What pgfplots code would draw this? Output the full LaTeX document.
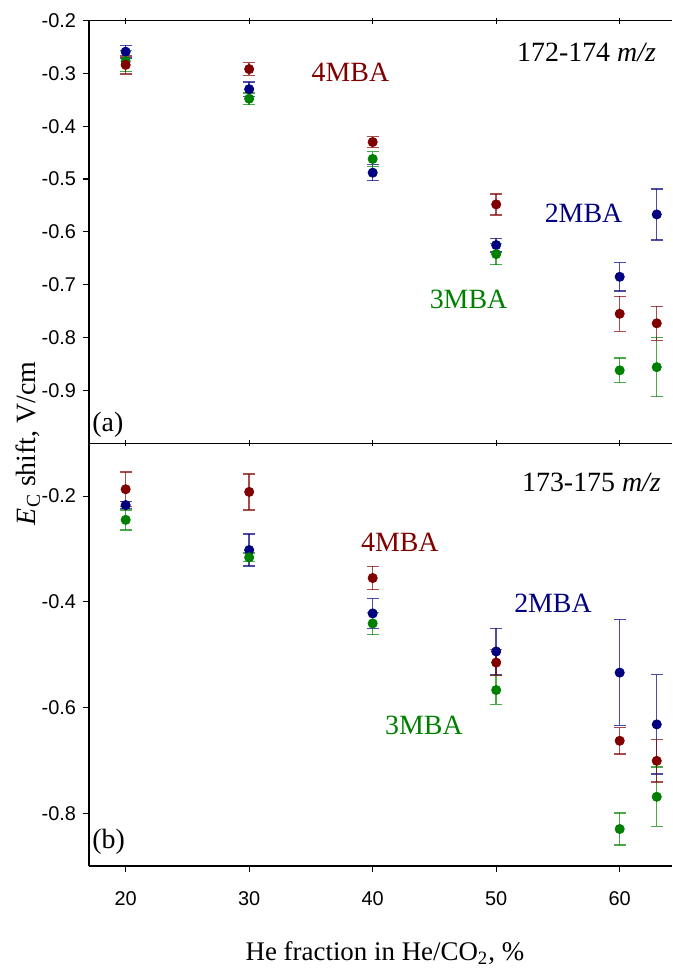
\documentclass[border=0pt]{standalone}
\usepackage{fontspec}
\setmainfont{Liberation Serif}
\newfontfamily\arial{Liberation Sans}
\usepackage{pgfplots}
\pgfplotsset{compat=1.18}
\definecolor{cred}{RGB}{128,0,0}
\definecolor{cblue}{RGB}{0,0,128}
\definecolor{cgreen}{RGB}{0,128,0}
\tikzset{ann/.style={font=\fontsize{14}{16}\selectfont}}
\pgfplotsset{
 common/.style={
  scale only axis, width=291.5bp, height=211.4bp,
  xmin=17.03, xmax=64.23,
  separate axis lines,
  axis x line*=box, axis y line*=left,
  axis line style={-, black, line width=0.7bp},
  xtick={20,30,40,50,60},
  ytick align=outside,
  major tick length=3bp,
  tick style={black, line width=0.6bp},
  ticklabel style={font=\arial\fontsize{10}{12}\selectfont},
  /pgf/number format/assume math mode=true,
  clip=false,
 },
 pt/.style={only marks, mark=*, mark size=2.3bp, color=#1, mark options={fill=#1,draw=#1},
   error bars/.cd, y dir=both, y explicit,
   error bar style={color=#1, opacity=0.7, line width=0.7bp},
   error mark options={rotate=90, mark size=3bp, line width=0.7bp, color=#1, opacity=0.7}},
}
\begin{document}
\begin{tikzpicture}
% top panel
\begin{axis}[common, at={(0,211.4bp)}, anchor=south west,
  ymin=-1.0, ymax=-0.2,
  xtick pos=both, xtick align=center, xticklabels={},
  ytick={-0.9,-0.8,-0.7,-0.6,-0.5,-0.4,-0.3,-0.2},
  yticklabels={-0.9,-0.8,-0.7,-0.6,-0.5,-0.4,-0.3,-0.2},
  ytick pos=left]
\addplot+[pt=cblue] coordinates {(20,-0.259)+-(0,0.012) (30,-0.330)+-(0,0.014) (40,-0.488)+-(0,0.015) (50,-0.625)+-(0,0.013) (60,-0.685)+-(0,0.027) (63,-0.567)+-(0,0.048)};
\addplot+[pt=cgreen] coordinates {(20,-0.277)+-(0,0.020) (30,-0.348)+-(0,0.011) (40,-0.462)+-(0,0.014) (50,-0.642)+-(0,0.020) (60,-0.862)+-(0,0.023) (63,-0.856)+-(0,0.056)};
\addplot+[pt=cred] coordinates {(20,-0.284)+-(0,0.017) (30,-0.292)+-(0,0.012) (40,-0.430)+-(0,0.010) (50,-0.548)+-(0,0.020) (60,-0.755)+-(0,0.033) (63,-0.773)+-(0,0.032)};
\node[ann, text=cred] at (axis cs:38.2,-0.298) {4MBA};
\node[ann, text=cblue] at (axis cs:57.07,-0.565) {2MBA};
\node[ann, text=cgreen] at (axis cs:47.76,-0.727) {3MBA};
\node[ann, anchor=east] at (axis cs:63.5,-0.26) {172-174 \textit{m/z}};
\node[ann, anchor=west, inner sep=0pt] at (axis cs:17.27,-0.966) {(a)};
\end{axis}
% bottom panel
\begin{axis}[common, at={(0,0)}, anchor=south west,
  ymin=-0.9, ymax=-0.1,
  xtick pos=bottom, xtick align=outside,
  xticklabels={20,30,40,50,60},
  xticklabel style={yshift=-6.5bp},
  ytick={-0.8,-0.6,-0.4,-0.2},
  yticklabels={-0.8,-0.6,-0.4,-0.2},
  ytick pos=left]
\addplot+[pt=cblue] coordinates {(20,-0.217)+-(0,0.007) (30,-0.302)+-(0,0.030) (40,-0.422)+-(0,0.028) (50,-0.494)+-(0,0.044) (60,-0.534)+-(0,0.100) (63,-0.632)+-(0,0.094)};
\addplot+[pt=cgreen] coordinates {(20,-0.245)+-(0,0.019) (30,-0.316)+-(0,0.008) (40,-0.441)+-(0,0.021) (50,-0.567)+-(0,0.027) (60,-0.830)+-(0,0.030) (63,-0.769)+-(0,0.056)};
\addplot+[pt=cred] coordinates {(20,-0.187)+-(0,0.033) (30,-0.192)+-(0,0.034) (40,-0.355)+-(0,0.022) (50,-0.515)+-(0,0.025) (60,-0.663)+-(0,0.025) (63,-0.701)+-(0,0.040)};
\node[ann, text=cred] at (axis cs:42.2,-0.288) {4MBA};
\node[ann, text=cblue] at (axis cs:54.6,-0.403) {2MBA};
\node[ann, text=cgreen] at (axis cs:44.15,-0.633) {3MBA};
\node[ann, anchor=east] at (axis cs:63.9,-0.174) {173-175 \textit{m/z}};
\node[ann, anchor=west, inner sep=0pt] at (axis cs:17.27,-0.854) {(b)};
\end{axis}
\node[rotate=90, font=\fontsize{14}{16}\selectfont] at (-30.5bp,211.4bp) {\textit{E}\textsubscript{C} shift, V/cm};
\node[anchor=base, font=\fontsize{13.5}{16}\selectfont] at (148bp,-47bp) {He fraction in He/CO\textsubscript{2}, \%};
\pgfresetboundingbox
\path[use as bounding box] (-44.5bp,-51bp) rectangle (292bp,433.05bp);
\end{tikzpicture}
\end{document}
